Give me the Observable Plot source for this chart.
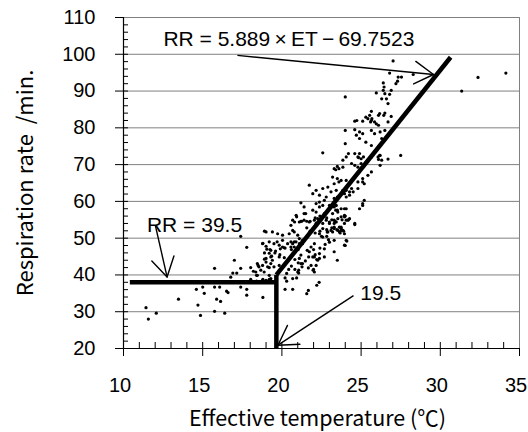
<!DOCTYPE html>
<html><head><meta charset="utf-8">
<script src="https://cdn.jsdelivr.net/npm/d3@7"></script>
<script src="https://cdn.jsdelivr.net/npm/@observablehq/plot@0.6"></script>
<style>body{margin:0;background:#fff}#chart svg{display:block}</style>
</head><body><div id="chart"></div>
<script>
// Observations: [effective temperature (°C), respiration rate (/min)]
const obs = [
[11.42,31.1],[11.57,28.0],[12.07,29.6],[13.47,33.4],[14.6,36.1],[15.0,36.7],[15.1,35.0],[14.7,31.8],[14.86,29.0],[15.75,41.8],[15.75,36.7],[16.07,36.7],[15.88,33.4],[16.13,32.8],[15.75,30.1],[16.39,29.6],[16.51,35.6],[16.6,35.2],[16.77,39.4],[16.9,40.5],[17.0,44.0],[17.15,40.5],[17.4,41.8],[17.4,36.7],[17.4,50.5],[17.78,47.5],[17.78,36.1],[17.78,34.5],[18.03,42.0],[18.2,41.0],[18.03,38.8],[18.4,39.9],[18.5,42.6],[18.4,38.3],[18.8,33.9],[18.9,51.9],[18.8,48.6],[19.05,47.0],[18.9,44.3],[19.2,45.9],[18.8,38.8],[19.2,38.8],[19.2,42.0],
[18.45,43.1],[18.55,42.2],[18.78,42.6],[19.0,43.5],[19.1,42.2],[19.3,43.1],[19.4,44.0],[19.5,42.2],[19.83,42.6],[18.35,40.8],[18.45,39.9],[18.67,41.3],[18.88,40.8],[19.2,39.9],[19.3,39.0],[18.78,38.5],[19.0,38.5],[19.3,38.5],
[19.83,48.1],[20.04,47.6],[20.36,48.5],[20.57,47.6],[20.68,48.5],[20.78,49.0],[20.89,49.0],[21.1,48.5],[21.3,48.5],
[19.0,51.7],[19.4,51.7],[19.73,51.2],[20.04,50.8],[20.46,51.2],[20.78,51.7],[21.0,50.8],
[18.78,48.5],[19.2,49.0],[19.5,48.5],[19.7,49.0],[20.04,49.4],[19.3,46.7],[19.6,46.5],[19.9,47.1],[20.15,47.4],[20.57,49.0],[20.78,47.6],[21.3,49.4],[21.1,49.9],
[19.0,44.5],[19.3,44.9],[19.83,44.9],[20.15,44.7],[21.2,45.4],[21.1,44.5],[21.3,43.1],[21.6,46.7],[21.95,44.9],[22.37,44.5],[22.68,44.9],[23.3,46.3],[23.5,44.0],
[21.03,46.9],[20.6,46.9],[20.2,47.3],[19.87,45.5],[19.56,46.0],[19.35,45.1],[19.25,46.9],[19.0,47.8],[18.9,46.0],
[20.2,36.1],[20.68,36.1],[21.57,34.9],[21.67,35.8],[22.2,37.2],[22.35,38.0],[20.3,38.3],[20.68,39.0],[21.06,40.5],[21.06,41.3],[21.97,41.3],[21.27,42.2],[21.2,43.1],[21.48,43.8],[21.69,44.9],[20.43,41.5],[20.3,40.4],[20.2,39.2],[20.93,39.2],[20.82,41.5],[20.6,42.4],[20.82,44.2],[21.03,43.3],[21.67,41.9],[22.0,41.5],[22.2,44.2],[22.1,45.5],[22.0,46.9],[21.0,40.8],[22.05,40.8],[22.16,42.6],[22.26,44.0],[21.84,42.6],
[20.93,55.8],[21.25,54.6],[21.57,54.6],[21.78,54.6],[22.1,55.5],[22.4,56.0],[22.83,55.5],[23.15,55.0],[23.36,54.6],[23.8,55.0],[24.0,56.0],[24.2,55.0],[24.6,53.7],[21.57,52.8],[21.78,51.9],[22.1,51.4],[22.4,51.9],[22.5,50.5],[22.83,52.3],[23.15,52.8],[23.47,52.3],[23.68,51.4],[23.9,51.9],[22.73,48.3],[22.4,47.3],[22.94,49.6],[22.83,50.5],[24.1,49.2],[24.0,48.0],
[21.1,54.4],[21.4,54.9],[21.73,54.4],[22.05,54.9],[22.16,54.0],[21.5,56.7],[20.9,56.2],[20.68,54.9],
[21.4,58.5],[21.95,57.6],[22.16,59.4],[22.37,58.5],[22.58,58.9],[22.9,57.6],[23.1,58.5],[23.2,56.7],[23.53,57.1],[23.74,55.8],[23.95,56.2],
[22.8,54.9],[23.0,54.0],[23.3,52.6],[23.63,51.7],[23.95,51.2],[22.9,51.7],[22.58,52.6],[22.37,51.2],[22.58,50.3],[22.05,48.5],[21.84,47.6],[21.73,46.3],[22.05,44.9],[22.37,45.8],[22.68,47.1],[23.0,48.9],[23.3,49.4],[21.2,59.6],
[22.58,73.2],[23.3,68.9],[23.5,69.5],[23.2,66.6],[23.5,66.2],[23.3,64.8],[23.6,65.3],[21.73,64.4],[22.16,63.0],[22.58,63.5],[22.9,63.9],[23.1,62.6],[23.43,63.0],[21.95,62.1],[22.37,61.7],[22.8,61.2],[23.5,61.2],[22.37,59.8],[23.0,58.9],[23.43,58.9],[22.16,57.1],[22.68,56.7],[23.5,57.6],[21.4,56.7],[20.8,54.4],[21.2,54.6],[22.26,55.3],[22.58,54.0],[23.0,54.4],[23.3,53.0],[23.74,52.1],[22.86,51.7],[23.2,51.7],[20.57,53.5],[20.68,52.1],[23.43,54.4],[23.63,53.0],
[24.6,81.8],[25.1,81.8],[25.6,81.6],[26.1,80.7],[24.0,79.3],[24.6,79.5],[24.9,78.9],[25.1,78.4],[25.65,79.3],[25.85,78.4],[26.2,78.9],[26.5,79.3],[24.7,78.0],[24.9,77.1],[25.3,76.1],[25.65,75.2],[24.0,75.7],[24.2,73.0],[24.6,73.0],[24.9,73.0],[24.06,72.1],[24.8,72.1],[23.85,71.2],[25.4,71.2],[26.07,72.1],[26.3,71.2],[26.2,69.8],[24.4,70.3],[24.6,69.8],[24.8,69.3],[25.0,70.3],[23.4,68.6],[23.6,68.9],[23.85,69.3],[25.65,68.0],[25.43,67.1],[25.1,66.2],[25.1,65.3],[25.2,64.8],[23.74,65.7],[23.85,63.0],[22.68,60.3],[23.3,60.8],[23.95,62.1],[24.27,62.6],[23.95,58.0],[24.9,58.0],[23.53,55.3],[23.95,55.8],[23.3,54.0],[23.74,53.0],[24.16,54.9],[24.6,54.0],[25.2,60.3],[25.1,59.4],[25.1,58.9],
[25.0,71.6],[27.5,72.5],[26.17,72.5],[24.2,64.4],[24.8,65.3],[24.06,65.7],[24.06,63.0],[24.4,63.5],[24.8,63.5],[24.5,62.6],[24.27,61.7],[24.06,61.2],[23.3,58.5],[23.4,57.6],[23.74,58.0],[24.06,58.0],[23.3,54.9],[24.06,54.9],[24.27,55.3],[23.95,54.0],[23.74,52.6],[23.85,52.1],[23.53,52.1],[23.1,52.1],[24.06,49.4],[23.95,48.1],
[27.02,98.2],[26.8,94.9],[27.34,93.8],[27.55,93.8],[27.3,92.7],[27.2,92.0],[28.29,94.5],[26.4,92.2],[26.45,91.1],[26.4,90.2],[25.96,89.5],[26.5,89.3],[26.8,89.1],[26.3,87.9],[26.6,87.9],[26.9,90.2],[26.7,86.6],[24.0,88.4],[25.65,84.5],[25.54,83.4],[26.17,83.9],[26.5,84.0],[25.65,82.0],[25.3,82.9],[25.96,81.1],[25.85,81.6],[26.7,81.6],[26.3,77.1],
[32.38,93.7],[34.14,94.9],[31.35,90.0],[24.73,82.0],[25.43,82.5],[25.68,82.5],[26.1,83.4],[26.43,83.4],[26.9,83.1],[24.84,71.9],[25.15,72.1],[26.2,72.5],[26.1,71.4],[26.7,71.5],[25.65,72.1],[25.27,70.4]
];
const et = obs.map(d => d[0]);
const rr = obs.map(d => d[1]);

// Axes
const xDomain = [10, 35];
const yDomain = [20, 110];
const xTicks = [10, 15, 20, 25, 30, 35];
const yTicks = [20, 30, 40, 50, 60, 70, 80, 90, 100, 110];
const gridY = [30, 40, 50, 60, 70, 80, 90, 100];
const xMinor = [11,12,13,14,15,16,17,18,19,20,21,22,23,24,25,26,27,28,29,30,31,32,33,34];
const yMinor = [22,24,26,28,30,32,34,36,38,40,42,44,46,48,50,52,54,56,58,60,62,64,66,68,70,72,74,76,78,80,82,84,86,88,90,92,94,96,98,100,102,104,106,108];

// Piecewise model lines (threshold 19.5 °C, plateau RR, regression)
const segX1 = [10.4, 19.65, 19.65];
const segY1 = [38, 40, 40];
const segX2 = [19.65, 19.65, 30.65];
const segY2 = [38, 20, 99.2];

// Annotation labels and arrows
const labelText = ["RR = 5.889\u2009\u00D7\u2009ET\u2009\u2212\u200969.7523", "RR = 39.5", "19.5"];
const labelX = [12.52, 11.48, 24.95];
const labelY = [104.0, 53.6, 34.9];
const arrX1 = [17.19, 12.01, 24.52];
const arrY1 = [99.7, 53.5, 34.4];
const arrX2 = [29.57, 12.75, 19.75];
const arrY2 = [94.5, 39.46, 20.9];

const W = 528, H = 432, mL = 123, mR = 9, mT = 17, mB = 84;
const SX = Plot.scale({x: {domain: xDomain, range: [mL, W - mR]}});
const SY = Plot.scale({y: {domain: yDomain, range: [H - mB, mT]}});
const headHalf = 31;
const barbs = [];
arrX1.forEach((_, i) => {
  const dx = SX.apply(arrX1[i]) - SX.apply(arrX2[i]);
  const dy = SY.apply(arrY1[i]) - SY.apply(arrY2[i]);
  const th = Math.atan2(dy, dx) * 180 / Math.PI;
  for (const s of [-1, 1]) {
    const a = (th + s * headHalf) * Math.PI / 180;
    const ux = Math.cos(a), uy = Math.sin(a);
    barbs.push({x: arrX2[i], y: arrY2[i], rot: Math.atan2(ux, -uy) * 180 / Math.PI});
  }
});
const barbShape = {draw(ctx, l) { ctx.moveTo(0, 0); ctx.lineTo(0, -l); }};

const font = "Liberation Sans, Arial, sans-serif";
const titleFont = "Noto Sans CJK JP";
const grey = "#808080";

const chart = Plot.plot({
  width: W, height: H,
  marginLeft: mL, marginRight: mR, marginTop: mT, marginBottom: mB,
  style: {fontFamily: font, fontSize: "20px", background: "#fff", color: "#000"},
  x: {domain: xDomain},
  y: {domain: yDomain},
  marks: [
    Plot.ruleY(gridY, {stroke: grey, strokeWidth: 1}),
    Plot.ruleY([110], {stroke: grey, strokeWidth: 1}),
    Plot.ruleX([35], {stroke: grey, strokeWidth: 1}),
    Plot.ruleX([10], {stroke: "#000", strokeWidth: 1.2}),
    Plot.ruleY([20], {stroke: "#000", strokeWidth: 1.2}),
    Plot.tickY(yMinor, {y: d => d, stroke: "#000", strokeWidth: 1, insetRight: W - mL - mR - 5}),
    Plot.tickX(xMinor, {x: d => d, stroke: "#000", strokeWidth: 1, insetTop: H - mT - mB - 6}),
    Plot.axisY({ticks: yTicks, tickSize: 8, tickPadding: 20, label: null, fontSize: 20, tickFormat: d => d}),
    Plot.axisX({ticks: xTicks, tickSize: 8, text: null, label: null}),
    Plot.axisX({ticks: xTicks, tickSize: 0, tickPadding: 29, label: null, fontSize: 20, tickFormat: d => d, dx: -3.5}),
    Plot.dot(obs, {x: et, y: rr, r: 1.6, fill: "#000", stroke: null}),
    Plot.link(segX1, {x1: segX1, y1: segY1, x2: segX2, y2: segY2, stroke: "#000", strokeWidth: 4.5, strokeLinecap: "butt"}),
    Plot.link(arrX1, {x1: arrX1, y1: arrY1, x2: arrX2, y2: arrY2, stroke: "#000", strokeWidth: 1.4}),
    Plot.vector(barbs, {x: "x", y: "y", rotate: "rot", length: 22, anchor: "start", shape: barbShape, stroke: "#000", strokeWidth: 1.4}),
    Plot.text(labelText, {x: labelX, y: labelY, text: labelText, textAnchor: "start", lineAnchor: "middle", fontSize: 21, fill: "#000"}),
    Plot.text(["Respiration rate  /min."], {frameAnchor: "left", dx: -98, rotate: -90, textAnchor: "middle", lineAnchor: "middle", text: d => d, fontSize: 22, fontFamily: titleFont, fill: "#000"}),
    Plot.text(["Effective temperature (\u2103)"], {frameAnchor: "bottom", dy: 71, dx: -4, textAnchor: "middle", lineAnchor: "middle", text: d => d, fontSize: 21.5, fontFamily: titleFont, fill: "#000"})
  ]
});
document.getElementById("chart").appendChild(chart);
</script>
</body></html>
